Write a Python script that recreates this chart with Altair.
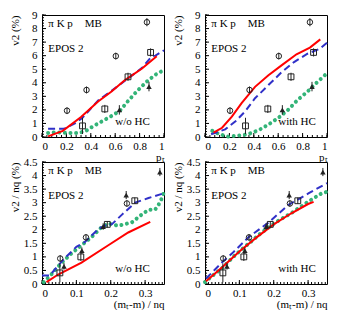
import altair as alt
import pandas as pd

FONT = "Liberation Serif"

# ---------------- top panels: v2 (%) vs pt ----------------
pi_pt = [0.205, 0.365, 0.605, 0.86]
pi_v2 = [1.94, 3.47, 5.97, 8.47]
pi_err = [0.25, 0.25, 0.25, 0.3]
k_pt = [0.332, 0.515, 0.705, 0.89]
k_v2 = [0.82, 2.07, 4.44, 6.24]
k_err = [0.6, 0.3, 0.3, 0.3]
p_pt = [0.634, 0.877]
p_v2 = [2.0, 3.72]
p_err = [0.35, 0.35]

# w/o HC
tl_red_x = [0.05, 0.17, 0.32, 0.46, 0.57, 0.68, 0.82, 0.94]
tl_red_y = [0.05, 0.45, 1.48, 2.62, 3.35, 4.2, 5.05, 5.95]
tl_blue_x = [0.05, 0.18, 0.27, 0.33, 0.46, 0.57, 0.71, 0.82, 0.9, 0.93, 1.0]
tl_blue_y = [0.6, 0.6, 1.0, 1.4, 2.7, 3.4, 4.35, 5.1, 5.95, 6.0, 6.4]
tl_green_x = [0.05, 0.12, 0.2, 0.3, 0.36, 0.42, 0.5, 0.58, 0.64, 0.7, 0.78, 0.86, 0.93, 1.0]
tl_green_y = [0.3, 0.35, 0.3, 0.3, 0.45, 0.8, 1.2, 1.6, 1.95, 2.6, 3.4, 4.1, 4.6, 4.95]

# with HC
tr_red_x = [0.07, 0.14, 0.22, 0.3, 0.41, 0.52, 0.63, 0.75, 0.86, 0.945]
tr_red_y = [0.32, 0.68, 1.5, 2.5, 3.7, 4.55, 5.3, 6.1, 6.6, 7.2]
tr_blue_x = [0.05, 0.165, 0.25, 0.33, 0.41, 0.52, 0.63, 0.73, 0.84, 0.94, 1.0]
tr_blue_y = [0.2, 0.56, 1.16, 1.9, 2.86, 3.83, 4.8, 5.53, 6.14, 6.5, 6.95]
tr_green_x = [0.06, 0.12, 0.19, 0.27, 0.35, 0.44, 0.52, 0.6, 0.68, 0.76, 0.84, 0.92, 1.0]
tr_green_y = [0.45, 0.2, 0.03, 0.1, 0.2, 0.5, 0.92, 1.4, 2.0, 2.74, 3.35, 4.05, 4.7]

# ---------------- bottom panels: v2/nq (%) vs (mt-m)/nq ----------------
pi_ket = [0.053, 0.128, 0.247]
pi_v2nq = [0.94, 1.72, 2.97]
pi_errnq = [0.12, 0.12, 0.12]
k_ket = [0.052, 0.113, 0.19, 0.27]
k_v2nq = [0.41, 1.0, 2.2, 3.07]
k_errnq = [0.35, 0.15, 0.12, 0.12]
p_ket = [0.064, 0.116, 0.178, 0.245, 0.343]
p_v2nq = [0.65, 1.23, 2.12, 3.28, 4.13]
p_errnq = [0.12, 0.12, 0.12, 0.15, 0.15]

bl_red_x = [0.013, 0.047, 0.115, 0.193, 0.251, 0.315]
bl_red_y = [0.07, 0.35, 0.79, 1.43, 1.9, 2.29]
bl_blue_x = [0.0, 0.022, 0.042, 0.066, 0.1, 0.125, 0.164, 0.19, 0.203, 0.232, 0.271, 0.31, 0.355]
bl_blue_y = [0.31, 0.31, 0.6, 0.95, 1.37, 1.55, 2.03, 2.2, 2.2, 2.55, 3.0, 3.17, 3.35]
bl_green_x = [0.005, 0.027, 0.056, 0.086, 0.115, 0.144, 0.173, 0.193, 0.222, 0.261, 0.29, 0.31, 0.329, 0.339, 0.349, 0.355]
bl_green_y = [0.07, 0.35, 0.77, 1.13, 1.43, 1.73, 2.09, 2.23, 2.15, 2.27, 2.56, 2.74, 2.74, 2.92, 3.17, 3.4]

br_red_x = [0.003, 0.05, 0.1, 0.15, 0.2, 0.25, 0.3, 0.316]
br_red_y = [0.1, 0.62, 1.2, 1.72, 2.2, 2.6, 2.95, 3.03]
br_blue_x = [0.003, 0.05, 0.079, 0.127, 0.185, 0.243, 0.302, 0.355]
br_blue_y = [0.2, 0.8, 1.13, 1.73, 2.27, 2.92, 3.35, 3.72]
br_green_x = [0.0, 0.02, 0.05, 0.088, 0.127, 0.166, 0.205, 0.253, 0.302, 0.34, 0.355]
br_green_y = [0.07, 0.29, 0.59, 1.07, 1.49, 1.91, 2.27, 2.63, 3.05, 3.35, 3.4]

RED = "#ff0000"
BLUE = "#3030c8"
GREEN = "#33b478"

W, H = 122, 122


def ticks(lo, hi, step):
    n = int(round((hi - lo) / step))
    return [round(lo + i * step, 6) for i in range(n + 1)]


def panel(lines, markers, xdom, ydom, xmaj, xminor, ymaj, yminor, xtitle, ytitle, tag):
    xs = alt.Scale(domain=xdom, nice=False, zero=False)
    ys = alt.Scale(domain=ydom, nice=False, zero=False)
    xax = alt.Axis(values=xmaj, title=xtitle, labelExpr="format(datum.value, '~g')",
                   titleAnchor="end", titleY=23, titleBaseline="alphabetic",
                   labelPadding=3)
    yax = alt.Axis(values=ymaj, title=ytitle, labelExpr="format(datum.value, '~g')",
                   titleAnchor="end", titleX=-22, titleBaseline="bottom",
                   labelPadding=5)
    X = alt.X("x:Q", scale=xs, axis=xax)
    Y = alt.Y("y:Q", scale=ys, axis=yax)

    layers = []
    # inside ticks (ROOT style)
    xmajor_df = pd.DataFrame({"x": xmaj})
    xminor_df = pd.DataFrame({"x": xminor})
    ymajor_df = pd.DataFrame({"y": ymaj})
    yminor_df = pd.DataFrame({"y": yminor})
    tk = dict(color="black", strokeWidth=1)
    layers.append(alt.Chart(xminor_df).mark_rule(**tk).encode(x=X, y=alt.value(H), y2=alt.value(H - 2)))
    layers.append(alt.Chart(xmajor_df).mark_rule(**tk).encode(x=X, y=alt.value(H), y2=alt.value(H - 4)))
    layers.append(alt.Chart(yminor_df).mark_rule(**tk).encode(y=Y, x=alt.value(0), x2=alt.value(2)))
    layers.append(alt.Chart(ymajor_df).mark_rule(**tk).encode(y=Y, x=alt.value(0), x2=alt.value(4)))

    (rx, ry), (bx, by), (gx, gy) = lines
    layers.append(alt.Chart(pd.DataFrame({"x": gx, "y": gy})).mark_line(
        color=GREEN, strokeWidth=4, strokeDash=[0.01, 5.6], strokeCap="round").encode(x=X, y=Y))
    layers.append(alt.Chart(pd.DataFrame({"x": bx, "y": by})).mark_line(
        color=BLUE, strokeWidth=2, strokeDash=[7, 4]).encode(x=X, y=Y))
    layers.append(alt.Chart(pd.DataFrame({"x": rx, "y": ry})).mark_line(
        color=RED, strokeWidth=2).encode(x=X, y=Y))

    for (mx, my, me, shape, filled, size) in markers:
        err = pd.DataFrame({"x": mx, "y": [a - e for a, e in zip(my, me)],
                            "y2": [a + e for a, e in zip(my, me)]})
        layers.append(alt.Chart(err).mark_rule(color="#222222", strokeWidth=1).encode(
            x=X, y=Y, y2=alt.Y2("y2:Q")))
        pts = pd.DataFrame({"x": mx, "y": my})
        if filled:
            layers.append(alt.Chart(pts).mark_point(shape=shape, filled=True, size=size,
                                                    color="#222222", opacity=1).encode(x=X, y=Y))
        else:
            layers.append(alt.Chart(pts).mark_point(shape=shape, filled=False, size=size,
                                                    color="#222222", strokeWidth=1, opacity=1).encode(x=X, y=Y))

    x0, x1 = xdom
    y0, y1 = ydom
    fx = lambda f: x0 + f * (x1 - x0)
    fy = lambda f: y0 + f * (y1 - y0)
    txt = pd.DataFrame({
        "x": [fx(0.052), fx(0.35), fx(0.052), fx(0.6)],
        "y": [fy(0.898), fy(0.898), fy(0.696), fy(0.1)],
        "t": ["π K p", "MB", "EPOS 2", tag],
    })
    layers.append(alt.Chart(txt).mark_text(align="left", baseline="alphabetic", font=FONT,
                                           fontSize=11, color="black").encode(x=X, y=Y, text="t:N"))
    return alt.layer(*layers).properties(width=W, height=H)


top_markers = [
    (pi_pt, pi_v2, pi_err, "circle", False, 30),
    (k_pt, k_v2, k_err, "square", False, 34),
    (p_pt, p_v2, p_err, "triangle-up", True, 30),
]
bot_markers = [
    (pi_ket, pi_v2nq, pi_errnq, "circle", False, 30),
    (k_ket, k_v2nq, k_errnq, "square", False, 34),
    (p_ket, p_v2nq, p_errnq, "triangle-up", True, 30),
]

top_args = dict(xdom=[0, 1], ydom=[0, 9], xmaj=ticks(0, 1, 0.2), xminor=ticks(0, 1, 0.04),
                ymaj=ticks(0, 9, 1), yminor=ticks(0, 9, 0.2), xtitle="pₜ", ytitle="v2 (%)")
bot_args = dict(xdom=[0, 0.355], ydom=[0, 4.5], xmaj=ticks(0, 0.3, 0.1), xminor=ticks(0, 0.35, 0.01),
                ymaj=ticks(0, 4.5, 0.5), yminor=ticks(0, 4.5, 0.1), xtitle="(mₜ-m) / nq",
                ytitle="v2 / nq (%)")

tl = panel([(tl_red_x, tl_red_y), (tl_blue_x, tl_blue_y), (tl_green_x, tl_green_y)],
           top_markers, tag="w/o HC", **top_args)
tr = panel([(tr_red_x, tr_red_y), (tr_blue_x, tr_blue_y), (tr_green_x, tr_green_y)],
           top_markers, tag="with HC", **top_args)
bl = panel([(bl_red_x, bl_red_y), (bl_blue_x, bl_blue_y), (bl_green_x, bl_green_y)],
           bot_markers, tag="w/o HC", **bot_args)
br = panel([(br_red_x, br_red_y), (br_blue_x, br_blue_y), (br_green_x, br_green_y)],
           bot_markers, tag="with HC", **bot_args)

chart = alt.concat(tl, tr, bl, br, columns=2, spacing=alt.RowColnumber(row=25, column=41),
                   bounds="flush").properties(padding=0, background="white").configure_view(
    stroke="black", strokeWidth=1).configure_axis(
    domain=False, ticks=False, grid=False, labelFont=FONT, labelFontSize=11, labelColor="black",
    titleFont=FONT, titleFontSize=11, titleFontWeight="normal", titleColor="black")

chart.save("out.html", embed_options={"renderer": "svg", "actions": False})
